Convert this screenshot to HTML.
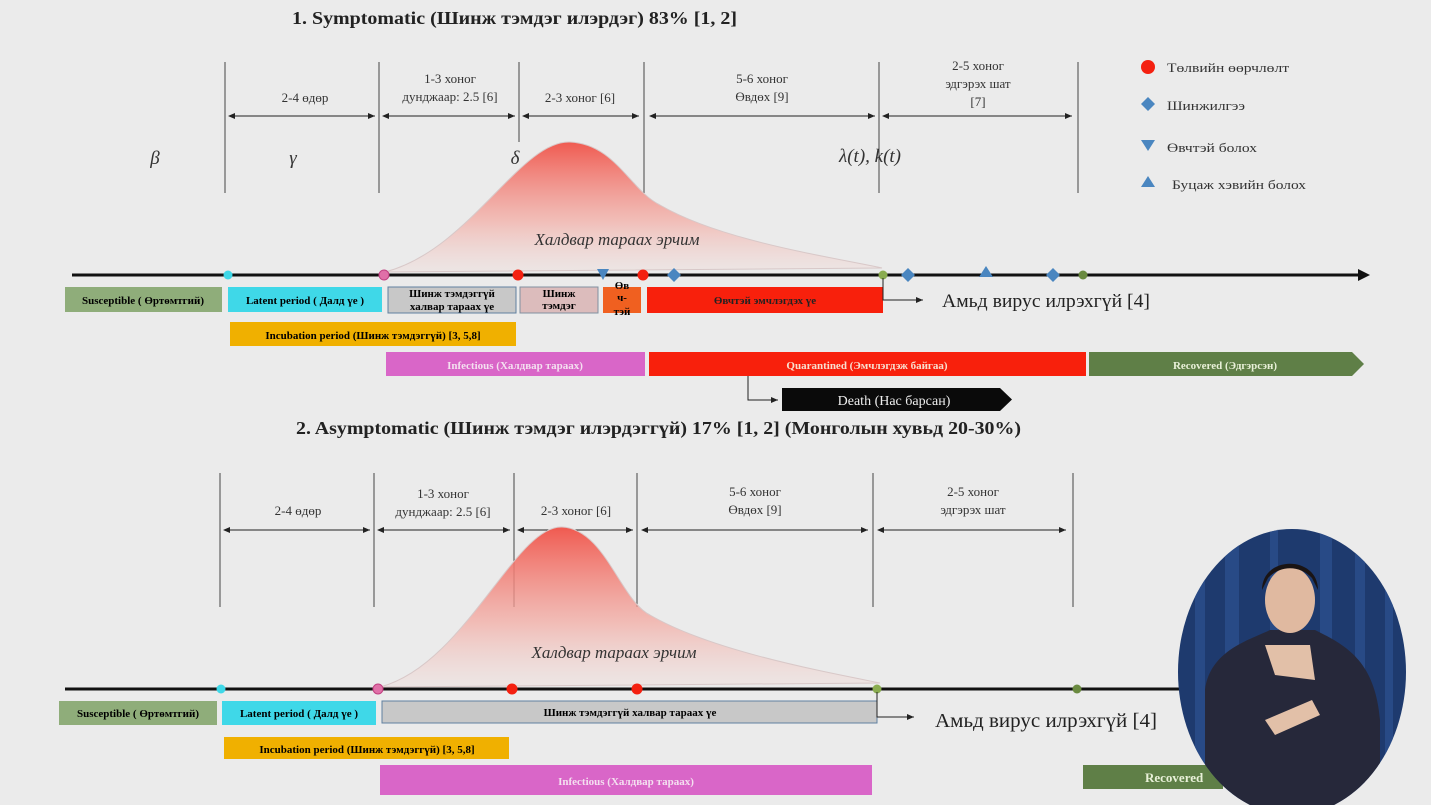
<!DOCTYPE html>
<html><head><meta charset="utf-8"><style>
html,body{margin:0;padding:0;background:#ebebeb;}
svg{display:block;font-family:"Liberation Serif",serif;}
.t{font-size:13px;fill:#333;text-anchor:middle;}
.b{font-size:11px;font-weight:bold;text-anchor:middle;}
</style></head><body>
<svg width="1431" height="805" viewBox="0 0 1431 805" xmlns="http://www.w3.org/2000/svg">
<defs>
<linearGradient id="g" x1="0" y1="0" x2="0" y2="1"><stop offset="0" stop-color="#f05a50"/><stop offset="0.6" stop-color="#f4a8a0" stop-opacity="0.7"/><stop offset="1" stop-color="#f0d8d4" stop-opacity="0.3"/></linearGradient>
<marker id="a" markerWidth="8" markerHeight="8" refX="7" refY="4" orient="auto"><path d="M0,1 L7,4 L0,7 z" fill="#222"/></marker>
<marker id="as" markerWidth="8" markerHeight="8" refX="1" refY="4" orient="auto"><path d="M7,1 L0,4 L7,7 z" fill="#222"/></marker>
<clipPath id="ov"><ellipse cx="1292" cy="672" rx="114" ry="143"/></clipPath>
</defs>
<rect width="1431" height="805" fill="#ebebeb"/>

<!-- Section 1 -->
<text x="292" y="24" font-size="18" font-weight="bold" fill="#222" textLength="445" lengthAdjust="spacingAndGlyphs">1. Symptomatic (Шинж тэмдэг илэрдэг)  83% [1, 2]</text>
<g stroke="#444" stroke-width="1">
<line x1="225" y1="62" x2="225" y2="193"/><line x1="379" y1="62" x2="379" y2="193"/><line x1="519" y1="62" x2="519" y2="142"/><line x1="644" y1="62" x2="644" y2="193"/><line x1="879" y1="62" x2="879" y2="193"/><line x1="1078" y1="62" x2="1078" y2="193"/>
</g>
<g stroke="#222" stroke-width="1" marker-end="url(#a)" marker-start="url(#as)">
<line x1="229" y1="116" x2="375" y2="116"/><line x1="383" y1="116" x2="515" y2="116"/><line x1="523" y1="116" x2="639" y2="116"/><line x1="650" y1="116" x2="875" y2="116"/><line x1="883" y1="116" x2="1072" y2="116"/>
</g>
<text class="t" x="305" y="102">2-4 өдөр</text>
<text class="t" x="450" y="83">1-3 хоног</text><text class="t" x="450" y="101">дунджаар: 2.5 [6]</text>
<text class="t" x="580" y="102">2-3 хоног [6]</text>
<text class="t" x="762" y="83">5-6 хоног</text><text class="t" x="762" y="101">Өвдөх [9]</text>
<text class="t" x="978" y="70">2-5 хоног</text><text class="t" x="978" y="88">эдгэрэх шат</text><text class="t" x="978" y="106">[7]</text>
<g font-size="19" font-style="italic" fill="#333" text-anchor="middle"><text x="155" y="164">β</text><text x="293" y="164">γ</text><text x="515" y="164">δ</text><text x="870" y="162">λ(t), k(t)</text></g>
<path d="M385,272 C470,250 520,140 570,142 C615,144 630,190 660,205 C720,240 820,255 882,268 Z" fill="url(#g)" stroke="#d8c8c8" stroke-width="1"/>
<text x="617" y="245" font-size="17" font-style="italic" fill="#333" text-anchor="middle">Халдвар тараах эрчим</text>
<line x1="72" y1="275" x2="1362" y2="275" stroke="#111" stroke-width="3"/>
<path d="M1358,269 L1370,275 L1358,281 z" fill="#111"/>
<g>
<circle cx="228" cy="275" r="4.5" fill="#3fd8e8"/>
<circle cx="384" cy="275" r="5" fill="#e070a8" stroke="#c04080"/>
<circle cx="518" cy="275" r="5.5" fill="#f42010"/>
<path d="M597,269 L609,269 L603,280 z" fill="#4a86c0"/>
<circle cx="643" cy="275" r="5.5" fill="#f42010"/>
<path d="M674,268 L681,275 L674,282 L667,275 z" fill="#4a86c0"/>
<circle cx="883" cy="275" r="4.5" fill="#8aac50"/>
<path d="M908,268 L915,275 L908,282 L901,275 z" fill="#4a86c0"/>
<path d="M986,266 L993,277 L979,277 z" fill="#4a86c0"/>
<path d="M1053,268 L1060,275 L1053,282 L1046,275 z" fill="#4a86c0"/>
<circle cx="1083" cy="275" r="4.5" fill="#6a8a40"/>
</g>
<rect x="65" y="287" width="157" height="25" fill="#8fad7a"/><text class="b" x="143" y="304" font-size="10">Susceptible ( Өртөмтгий)</text>
<rect x="228" y="287" width="154" height="25" fill="#3fd8e8"/><text class="b" x="305" y="304">Latent period ( Далд үе )</text>
<rect x="388" y="287" width="128" height="26" fill="#c8c8c8" stroke="#6080a0"/><text class="b" x="452" y="297" font-size="10">Шинж тэмдэггүй</text><text class="b" x="452" y="310" font-size="10">халвар тараах үе</text>
<rect x="520" y="287" width="78" height="26" fill="#dcbcbc" stroke="#8090a0"/><text class="b" x="559" y="297" font-size="9">Шинж</text><text class="b" x="559" y="309" font-size="9">тэмдэг</text>
<rect x="603" y="287" width="38" height="26" fill="#f06020"/><text class="b" x="622" y="289" font-size="9">Өв</text><text class="b" x="622" y="301" font-size="9">ч-</text><text class="b" x="622" y="315" font-size="9">тэй</text>
<rect x="647" y="287" width="236" height="26" fill="#f8200c"/><text class="b" x="765" y="304" font-size="10" fill="#222">Өвчтэй эмчлэгдэх үе</text>
<path d="M883,278 L883,300 L923,300" fill="none" stroke="#222" marker-end="url(#a)"/>
<text x="942" y="307" font-size="19" fill="#222" textLength="208" lengthAdjust="spacingAndGlyphs">Амьд вирус илрэхгүй [4]</text>
<rect x="230" y="322" width="286" height="24" fill="#f0b000"/><text class="b" x="373" y="339" font-size="12">Incubation period (Шинж тэмдэггүй) [3, 5,8]</text>
<rect x="386" y="352" width="259" height="24" fill="#d966c8"/><text class="b" x="515" y="369" fill="#f4e0f0">Infectious (Халдвар тараах)</text>
<rect x="649" y="352" width="437" height="24" fill="#f8200c"/><text class="b" x="867" y="369" fill="#f8e0d0">Quarantined (Эмчлэгдэж байгаа)</text>
<path d="M1089,352 L1352,352 L1364,364 L1352,376 L1089,376 z" fill="#5f7f47"/><text class="b" x="1225" y="369" font-size="13" fill="#e8f0d8">Recovered (Эдгэрсэн)</text>
<path d="M748,376 L748,400 L778,400" fill="none" stroke="#222" marker-end="url(#a)"/>
<path d="M782,388 L1000,388 L1012,399.5 L1000,411 L782,411 z" fill="#0a0a0a"/><text x="894" y="405" font-size="14" fill="#eee" text-anchor="middle">Death (Нас барсан)</text>

<!-- legend -->
<circle cx="1148" cy="67" r="7" fill="#f42010"/><text x="1167" y="72" font-size="13" fill="#333" textLength="122" lengthAdjust="spacingAndGlyphs">Төлвийн өөрчлөлт</text>
<path d="M1148,97 L1155,104 L1148,111 L1141,104 z" fill="#4a86c0"/><text x="1167" y="110" font-size="13" fill="#333" textLength="78" lengthAdjust="spacingAndGlyphs">Шинжилгээ</text>
<path d="M1141,140 L1155,140 L1148,151 z" fill="#4a86c0"/><text x="1167" y="152" font-size="13" fill="#333" textLength="90" lengthAdjust="spacingAndGlyphs">Өвчтэй болох</text>
<path d="M1148,176 L1155,187 L1141,187 z" fill="#4a86c0"/><text x="1172" y="189" font-size="13" fill="#333" textLength="134" lengthAdjust="spacingAndGlyphs">Буцаж хэвийн болох</text>

<!-- Section 2 -->
<text x="296" y="434" font-size="18" font-weight="bold" fill="#222" textLength="725" lengthAdjust="spacingAndGlyphs">2. Asymptomatic (Шинж тэмдэг илэрдэггүй)  17% [1, 2] (Монголын хувьд 20-30%)</text>
<g stroke="#444" stroke-width="1">
<line x1="220" y1="473" x2="220" y2="607"/><line x1="374" y1="473" x2="374" y2="607"/><line x1="514" y1="473" x2="514" y2="607"/><line x1="637" y1="473" x2="637" y2="607"/><line x1="873" y1="473" x2="873" y2="607"/><line x1="1073" y1="473" x2="1073" y2="607"/>
</g>
<g stroke="#222" stroke-width="1" marker-end="url(#a)" marker-start="url(#as)">
<line x1="224" y1="530" x2="370" y2="530"/><line x1="378" y1="530" x2="510" y2="530"/><line x1="518" y1="530" x2="633" y2="530"/><line x1="642" y1="530" x2="868" y2="530"/><line x1="878" y1="530" x2="1066" y2="530"/>
</g>
<text class="t" x="298" y="515">2-4 өдөр</text>
<text class="t" x="443" y="498">1-3 хоног</text><text class="t" x="443" y="516">дунджаар: 2.5 [6]</text>
<text class="t" x="576" y="515">2-3 хоног [6]</text>
<text class="t" x="755" y="496">5-6 хоног</text><text class="t" x="755" y="514">Өвдөх [9]</text>
<text class="t" x="973" y="496">2-5 хоног</text><text class="t" x="973" y="514">эдгэрэх шат</text>
<path d="M380,687 C465,665 515,525 562,527 C605,529 620,600 650,615 C710,650 815,670 880,683 Z" fill="url(#g)" stroke="#d8c8c8" stroke-width="1"/>
<text x="614" y="658" font-size="17" font-style="italic" fill="#333" text-anchor="middle">Халдвар тараах эрчим</text>
<line x1="65" y1="689" x2="1200" y2="689" stroke="#111" stroke-width="3"/>
<circle cx="221" cy="689" r="4.5" fill="#3fd8e8"/>
<circle cx="378" cy="689" r="5" fill="#e070a8" stroke="#c04080"/>
<circle cx="512" cy="689" r="5.5" fill="#f42010"/>
<circle cx="637" cy="689" r="5.5" fill="#f42010"/>
<circle cx="877" cy="689" r="4.5" fill="#8aac50"/>
<circle cx="1077" cy="689" r="4.5" fill="#6a8a40"/>
<rect x="59" y="701" width="158" height="24" fill="#8fad7a"/><text class="b" x="138" y="717" font-size="10">Susceptible ( Өртөмтгий)</text>
<rect x="222" y="701" width="154" height="24" fill="#3fd8e8"/><text class="b" x="299" y="717">Latent period ( Далд үе )</text>
<rect x="382" y="701" width="495" height="22" fill="#c8c8c8" stroke="#6080a0"/><text class="b" x="630" y="716" font-size="10">Шинж тэмдэггүй халвар тараах үе</text>
<path d="M877,692 L877,717 L914,717" fill="none" stroke="#222" marker-end="url(#a)"/>
<text x="935" y="727" font-size="20" fill="#222" textLength="222" lengthAdjust="spacingAndGlyphs">Амьд вирус илрэхгүй [4]</text>
<rect x="224" y="737" width="285" height="22" fill="#f0b000"/><text class="b" x="367" y="753" font-size="12">Incubation period (Шинж тэмдэггүй) [3, 5,8]</text>
<rect x="380" y="765" width="492" height="30" fill="#d966c8"/><text class="b" x="626" y="785" fill="#f4e0f0">Infectious (Халдвар тараах)</text>
<rect x="1083" y="765" width="140" height="24" fill="#5f7f47"/><text x="1145" y="782" font-size="13" font-weight="bold" fill="#e8f0d8">Recovered</text>

<!-- signer oval -->
<g clip-path="url(#ov)">
<rect x="1170" y="520" width="261" height="285" fill="#1e3a6e"/>
<g fill="#2b4f8c" opacity="0.8"><rect x="1195" y="520" width="10" height="285"/><rect x="1225" y="520" width="14" height="285"/><rect x="1270" y="520" width="8" height="285"/><rect x="1320" y="520" width="12" height="285"/><rect x="1355" y="520" width="10" height="285"/><rect x="1385" y="520" width="8" height="285"/></g>
<path d="M1205,690 C1210,650 1250,640 1270,630 L1315,630 C1345,645 1375,660 1380,720 L1380,805 L1205,805 Z" fill="#26283a"/>
<ellipse cx="1290" cy="600" rx="25" ry="33" fill="#e0b9a0"/>
<path d="M1262,590 C1262,555 1318,555 1318,590 L1312,578 C1300,565 1280,565 1268,578 Z" fill="#1a1414"/>
<path d="M1265,645 L1310,645 L1315,680 L1275,675 Z" fill="#e2c0a8"/>
<path d="M1265,720 L1312,700 L1320,715 L1275,735 Z" fill="#e2c0a8"/>
</g>
</svg>
</body></html>
